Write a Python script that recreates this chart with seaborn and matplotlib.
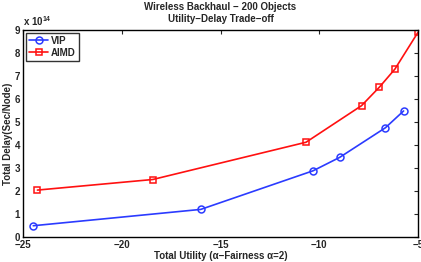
import numpy as np
import pandas as pd
import seaborn as sns
import matplotlib.pyplot as plt

# values (delay in units of 1e14)
vip_utility = [-24.48, -16.0, -10.31, -8.97, -6.65, -5.73]
vip_delay = [0.49, 1.2, 2.88, 3.46, 4.75, 5.48]
aimd_utility = [-24.27, -18.43, -10.67, -7.86, -6.95, -6.17, -5.0]
aimd_delay = [2.04, 2.5, 4.12, 5.71, 6.52, 7.3, 8.9]

df = pd.concat([
    pd.DataFrame({'utility': vip_utility, 'delay': vip_delay, 'scheme': 'VIP'}),
    pd.DataFrame({'utility': aimd_utility, 'delay': aimd_delay, 'scheme': 'AIMD'}),
])

sns.set_style("white")
plt.rcParams['font.family'] = ['Liberation Sans', 'DejaVu Sans']
plt.rcParams['font.weight'] = 'bold'
plt.rcParams['mathtext.default'] = 'regular'

fig = plt.figure(figsize=(4.21, 2.62), dpi=100)
ax = fig.add_axes([23 / 421, 1 - 237 / 262, 395 / 421, 207 / 262])

colors = {'VIP': '#2b3bff', 'AIMD': '#ff1010'}
sns.lineplot(data=df, x='utility', y='delay', hue='scheme', style='scheme',
             palette=colors, markers={'VIP': 'o', 'AIMD': 's'}, dashes=False,
             markersize=5, markerfacecolor='none', markeredgewidth=1.1,
             linewidth=1.2, sort=False, legend=False, ax=ax)
for ln, c in zip(ax.lines, colors.values()):
    ln.set_markeredgecolor(c)

ax.set_xlim(-25, -5)
ax.set_ylim(0, 9)
ax.set_xticks([-25, -20, -15, -10, -5])
ax.set_xticklabels(['\u221225', '\u221220', '\u221215', '\u221210', '\u22125'])
ax.set_yticks(range(10))
ax.tick_params(direction='in', length=3, width=0.8, labelsize=7, pad=2,
               top=True, right=True)
for s in ax.spines.values():
    s.set_linewidth(1.0)
    s.set_color('black')

ax.set_xlabel('Total Utility (\u03b1\u2212Fairness \u03b1=2)', fontsize=7, fontweight='bold', labelpad=1)
ax.set_ylabel('Total Delay(Sec/Node)', fontsize=7, fontweight='bold', labelpad=1)
ax.set_title('Wireless Backhaul \u2212 200 Objects\nUtility\u2212Delay Trade\u2212off',
             fontsize=7, fontweight='bold', pad=6, linespacing=1.15)
ax.text(0.0, 1.012, r'x 10$^{14}$', transform=ax.transAxes, fontsize=7,
        fontweight='bold', ha='left', va='bottom')

leg = ax.legend(ax.lines[:2], list(colors.keys()), loc='upper left', fontsize=7,
                frameon=True, fancybox=False, borderaxespad=0.3, handlelength=2.0,
                handletextpad=0.3, borderpad=0.3, labelspacing=0.2)
leg.get_frame().set_edgecolor('black')
leg.get_frame().set_linewidth(1.0)
for t in leg.get_texts():
    t.set_fontweight('bold')

fig.savefig('out.png', dpi=100)
